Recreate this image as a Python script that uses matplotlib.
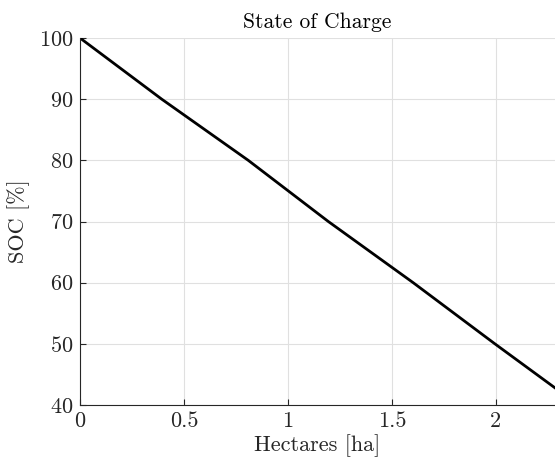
import matplotlib
matplotlib.use("Agg")
import matplotlib.pyplot as plt

# SOC curve (grid crossings)
hectares = [0.0, 0.393, 0.809, 1.194, 1.602, 1.995, 2.284]
soc = [100.0, 90.0, 80.0, 70.0, 60.0, 50.0, 42.8]

x_ticks = [0, 0.5, 1, 1.5, 2]
x_tick_labels = ["0", "0.5", "1", "1.5", "2"]
y_ticks = [40, 50, 60, 70, 80, 90, 100]

plt.rcParams["font.family"] = "serif"
plt.rcParams["font.serif"] = ["cmr10", "DejaVu Serif"]
plt.rcParams["mathtext.fontset"] = "cm"
plt.rcParams["axes.formatter.use_mathtext"] = True

axis_col = "#262626"

fig = plt.figure(figsize=(5.55, 4.65), dpi=100)
# axes in pixels: left 80, right 555, top 38, bottom 405
ax = fig.add_axes([80 / 555, (465 - 405) / 465, 475 / 555, 367 / 465])

ax.plot(hectares, soc, color="black", linewidth=2.0)

ax.set_xlim(0, 2.284)
ax.set_ylim(40, 100)
ax.set_xticks(x_ticks)
ax.set_xticklabels(x_tick_labels)
ax.set_yticks(y_ticks)

ax.grid(True, color="#e0e0e0", linewidth=0.8)
ax.set_axisbelow(True)

for side in ["top", "right"]:
    ax.spines[side].set_visible(False)
for side in ["left", "bottom"]:
    ax.spines[side].set_color(axis_col)
    ax.spines[side].set_linewidth(0.8)

ax.tick_params(direction="in", length=4, width=0.8, colors=axis_col,
               labelsize=16, pad=5)

ax.set_title("State of Charge", fontsize=15.5, color="black", pad=7)
ax.set_xlabel("Hectares [ha]", fontsize=16, color=axis_col, labelpad=2)
ax.set_ylabel("SOC [%]", fontsize=16, color=axis_col, labelpad=6)

fig.savefig("out.png", dpi=100)
